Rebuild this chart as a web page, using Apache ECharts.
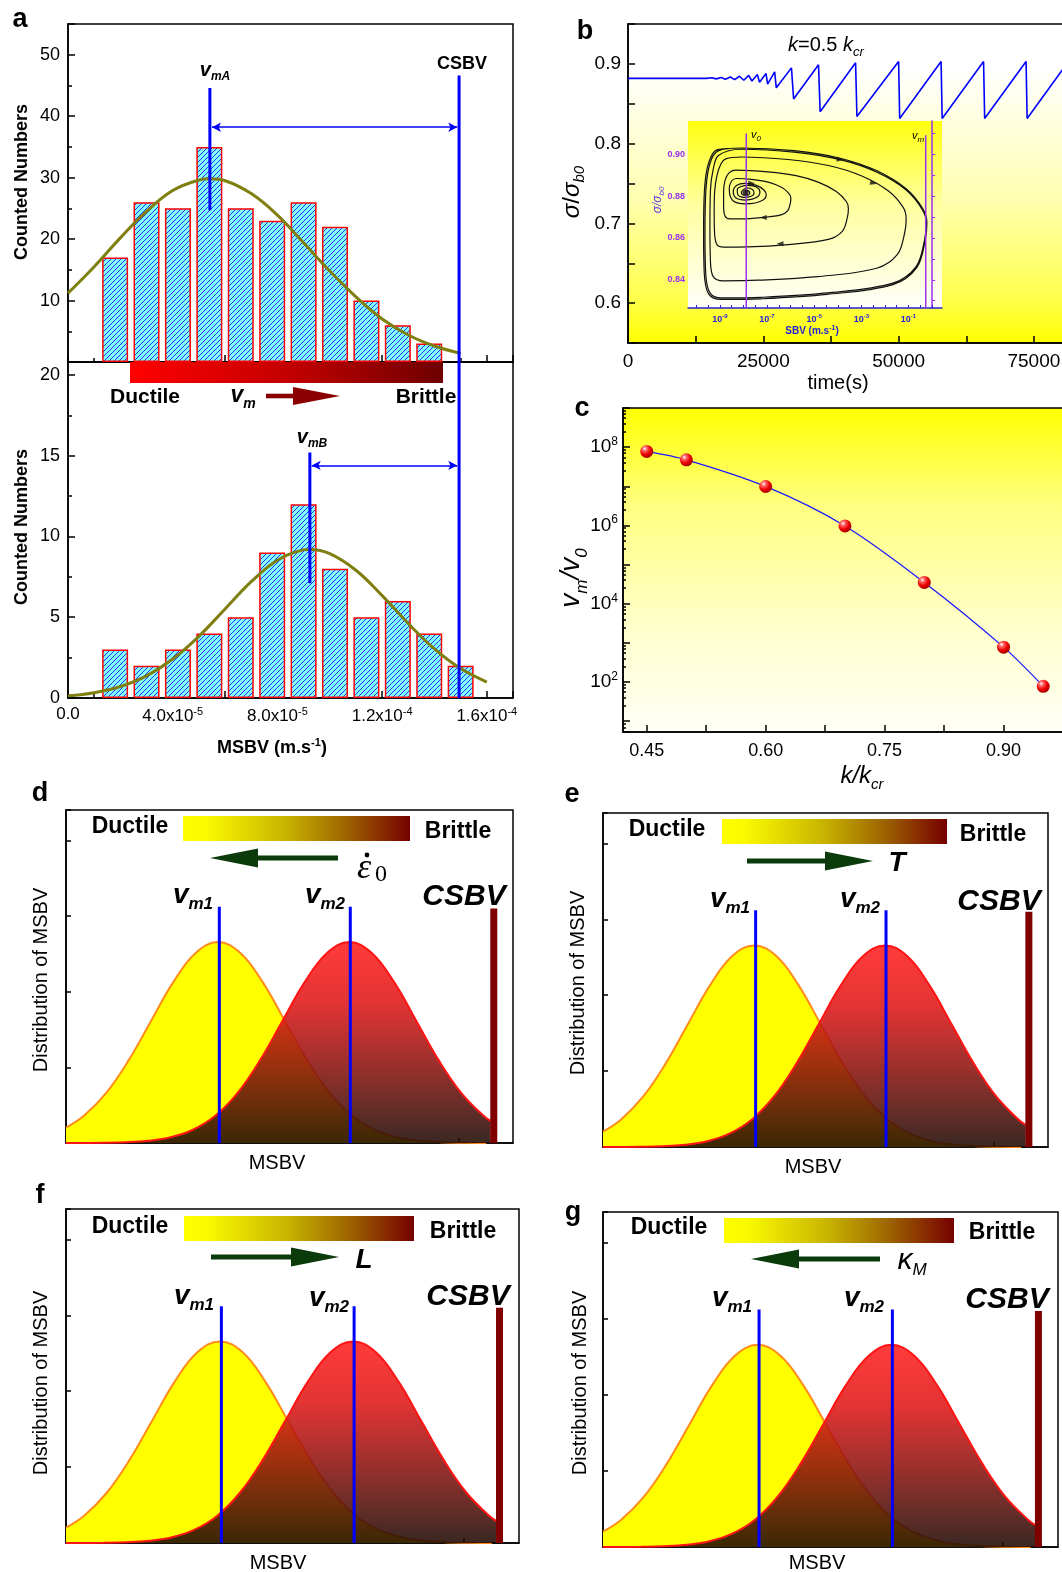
<!DOCTYPE html>
<html>
<head>
<meta charset="utf-8">
<script src="https://cdn.jsdelivr.net/npm/echarts@6/dist/echarts.min.js"></script>
<style>
html,body{margin:0;padding:0;background:#fff;}
#main{width:1062px;height:1572px;}
</style>
</head>
<body>
<div id="main"></div>
<script>
var FONT = 'Liberation Sans, Arial, sans-serif';
var SERIF = 'Liberation Serif, Times New Roman, serif';

// ---------- panel a : histograms of MSBV ----------
var binCentres = [1.8e-5, 3.0e-5, 4.2e-5, 5.4e-5, 6.6e-5, 7.8e-5, 9.0e-5, 1.02e-4, 1.14e-4, 1.26e-4, 1.38e-4, 1.50e-4];
var countsA = [17, 26, 25, 35, 25, 23, 26, 22, 10, 6, 3];
var countsB = [3, 2, 3, 4, 5, 9, 12, 8, 5, 6, 4, 2];
var fitAX = [0, 1e-5, 2e-5, 3e-5, 4e-5, 5e-5, 5.42e-5, 6e-5, 7e-5, 8e-5, 9e-5, 1e-4, 1.1e-4, 1.2e-4, 1.3e-4, 1.4e-4, 1.5e-4];
var fitAY = [11.2, 15.5, 20.2, 24.5, 27.9, 29.6, 29.8, 29.5, 27.4, 23.9, 19.4, 14.8, 10.6, 7.0, 4.4, 2.6, 1.4];
var fitBX = [0, 1e-5, 2e-5, 3e-5, 4e-5, 5e-5, 6e-5, 7e-5, 8e-5, 9e-5, 9.24e-5, 1e-4, 1.1e-4, 1.2e-4, 1.3e-4, 1.4e-4, 1.5e-4, 1.6e-4];
var fitBY = [0.14, 0.33, 0.71, 1.37, 2.41, 3.82, 5.51, 7.20, 8.53, 9.17, 9.2, 8.94, 7.91, 6.34, 4.61, 3.04, 1.82, 0.99];
var vmA = 5.42e-5, vmB = 9.24e-5, csbv = 1.494e-4;
var msbvTickLabels = ['0.0', '4.0x10^-5', '8.0x10^-5', '1.2x10^-4', '1.6x10^-4'];

// ---------- panel b : stress vs time ----------
var timeS = [0, 14500, 15500, 16300, 17200, 18000, 18900, 19700, 20600, 21400, 22300, 22900, 23900, 24300, 25500, 25800,
  27100, 27400, 30200, 30600, 35200, 35500, 42050, 42300, 50000, 50200, 57850, 58050, 65700, 65900, 73550, 73750, 80500];
var stressB = [0.8818, 0.8818, 0.8826, 0.8812, 0.8830, 0.8808, 0.8836, 0.8802, 0.8845, 0.8795, 0.8855, 0.8785, 0.8866, 0.8770, 0.8880, 0.8745,
  0.8900, 0.8700, 0.8950, 0.8560, 0.8990, 0.8400, 0.9015, 0.8340, 0.9030, 0.8315, 0.9030, 0.8315, 0.9030, 0.8315, 0.9030, 0.8315, 0.8946];

// inset: phase portrait, x = log10(SBV)
var phaseX = [-7.91, -7.90, -7.76, -7.73, -7.85, -8.03, -8.09, -8.00, -7.85, -7.62, -7.55, -7.70, -8.00, -8.24, -8.26, -8.10,
  -7.80, -7.45, -7.30, -7.45, -7.90, -8.33, -8.43, -8.28, -7.95, -7.45, -7.12, -7.03, -7.15, -7.50, -7.95, -8.35, -8.55, -8.60, -8.50,
  -8.30, -7.66, -7.08, -6.62, -6.24, -6.03, -5.99, -6.01, -6.12, -6.41, -7.25, -8.08, -8.58, -8.78, -8.84, -8.84, -8.78, -8.62,
  -8.34, -6.97, -5.77, -4.83, -4.06, -3.63, -3.55, -3.59, -3.80, -4.40, -6.11, -7.83, -8.85, -9.12, -9.22, -9.24, -9.22, -9.12, -8.95,
  -8.75, -8.11, -6.11, -4.35, -2.98, -1.85, -1.22, -1.10, -1.16, -1.47, -2.35, -4.86, -7.36, -8.86, -9.28, -9.40, -9.42, -9.40, -9.28, -9.05,
  -8.09, -5.85, -3.90, -2.36, -1.10, -0.40, -0.25, -0.32, -0.68, -1.66, -4.45, -7.25, -8.93, -9.42, -9.60, -9.63, -9.59, -9.42, -9.07,
  -8.09, -5.85, -3.90, -2.36, -1.10, -0.38, -0.22, -0.29, -0.65, -1.66, -4.45, -7.25, -8.95, -9.47, -9.66, -9.69, -9.65, -9.47, -9.10, -8.09];
var phaseY = [0.8817, 0.8829, 0.8823, 0.8812, 0.8805, 0.8806, 0.8818, 0.8831, 0.8839, 0.8832, 0.8815, 0.8798, 0.8794, 0.8807, 0.8832, 0.8846,
  0.8851, 0.8843, 0.8820, 0.8793, 0.8781, 0.8792, 0.8823, 0.8852, 0.8861, 0.8851, 0.8828, 0.8805, 0.8782, 0.8767, 0.8763, 0.8771, 0.8796, 0.8835, 0.8872,
  0.8884, 0.8880, 0.8870, 0.8854, 0.8831, 0.8805, 0.8787, 0.8766, 0.8731, 0.8710, 0.8697, 0.8691, 0.8691, 0.8705, 0.8750, 0.8820, 0.8875, 0.8910,
  0.8924, 0.8916, 0.8898, 0.8867, 0.8822, 0.8773, 0.8740, 0.8699, 0.8633, 0.8593, 0.8568, 0.8557, 0.8556, 0.8568, 0.8617, 0.8716, 0.8822, 0.8900, 0.8955,
  0.8978, 0.8987, 0.8975, 0.8945, 0.8896, 0.8824, 0.8745, 0.8692, 0.8626, 0.8521, 0.8455, 0.8415, 0.8398, 0.8395, 0.8415, 0.8494, 0.8652, 0.8824, 0.8929, 0.8995,
  0.9024, 0.9010, 0.8974, 0.8915, 0.8829, 0.8733, 0.8670, 0.8590, 0.8463, 0.8384, 0.8337, 0.8316, 0.8313, 0.8337, 0.8432, 0.8622, 0.8829, 0.8956, 0.9016,
  0.9030, 0.9017, 0.8981, 0.8922, 0.8835, 0.8737, 0.8672, 0.8589, 0.8458, 0.8377, 0.8330, 0.8309, 0.8306, 0.8331, 0.8430, 0.8622, 0.8832, 0.8961, 0.9022, 0.9030];
var focusPt = [-7.91, 0.8817];
var flowArrowX = [-3.9, -2.48, -6.45, -7.16, -7.65];
var flowArrowY = [0.8975, 0.8862, 0.8572, 0.8698, 0.8861];
var flowArrowRot = [-95, -105, 90, 90, -90];
var v0Log = -7.88, vmLog = -0.27;
var insetXLabels = [-9, -7, -5, -3, -1];
var insetYLabels = [0.84, 0.86, 0.88, 0.90];

// ---------- panel c : vm/v0 vs k/kcr ----------
var kRatio = [0.45, 0.50, 0.60, 0.70, 0.80, 0.90, 0.95];
var vmRatio = [7.8e7, 4.75e7, 9.9e6, 9.7e5, 3.5e4, 780, 78];
var kTickLabels = [0.45, 0.60, 0.75, 0.90];

// ---------- panels d-g : schematic MSBV distributions ----------
var ductileX = [0, 0.4, 0.9, 1.4, 1.9, 2.4, 2.9, 3.4, 3.9, 4.4, 4.9, 5.4, 5.9, 6.4, 6.9, 7.4, 7.9, 8.4, 8.9, 9.4];
var ductileY = [0.203, 0.359, 0.662, 1.092, 1.610, 2.126, 2.512, 2.655, 2.512, 2.126, 1.610, 1.092, 0.662, 0.359, 0.175, 0.076, 0.030, 0.010, 0.003, 0.001];
var brittleX = [0, 0.34, 0.84, 1.34, 1.84, 2.34, 2.84, 3.34, 3.84, 4.34, 4.84, 5.34, 5.84, 6.34, 6.84, 7.34, 7.84, 8.34, 8.84, 9.34, 9.5];
var brittleY = [0.0004, 0.0009, 0.0032, 0.0102, 0.0295, 0.0758, 0.175, 0.359, 0.662, 1.092, 1.610, 2.126, 2.512, 2.655, 2.512, 2.126, 1.610, 1.092, 0.662, 0.359, 0.289];
var vm1X = 3.43, vm2X = 6.36, vmTop = 3.12;
var csbvX = 9.57, csbvTop = 3.10;
var schemTicks = [0.28, 1.49, 2.71, 3.93, 5.14, 6.36, 7.58, 8.79];

function zip(xs, ys) {
  return xs.map(function (x, i) { return [x, ys[i]]; });
}

// hatch fill for histogram bars
var hatch = document.createElement('canvas');
hatch.width = 5; hatch.height = 5;
var hc = hatch.getContext('2d');
hc.fillStyle = '#80ffff'; hc.fillRect(0, 0, 5, 5);
hc.strokeStyle = '#2b2bff'; hc.lineWidth = 1;
hc.beginPath();
hc.moveTo(0, 5); hc.lineTo(5, 0);
hc.moveTo(-1, 1); hc.lineTo(1, -1);
hc.moveTo(4, 6); hc.lineTo(6, 4);
hc.stroke();

var black = { color: '#000', width: 1.5 };

function gridBox(left, top, width, height, bg, border) {
  return {
    left: left, top: top, width: width, height: height, show: true,
    borderColor: '#000', borderWidth: border == null ? 1.5 : border,
    backgroundColor: bg || 'transparent', outerBoundsMode: 'none'
  };
}

function vGrad(stops) {
  return { type: 'linear', x: 0, y: 0, x2: 0, y2: 1, colorStops: stops.map(function (s) { return { offset: s[0], color: s[1] }; }) };
}

var grids = [
  gridBox(68, 24, 445, 338),
  gridBox(68, 362, 445, 336),
  gridBox(628, 24, 436, 319, vGrad([[0, '#ffffff'], [0.14, '#ffffff'], [0.55, '#ffffb0'], [0.85, '#ffff50'], [1, '#ffff00']])),
  gridBox(688, 121, 254, 187, vGrad([[0, '#ffff10'], [0.45, '#ffffa0'], [1, '#fffffa']]), 0),
  gridBox(623, 408, 441, 324, vGrad([[0, '#ffff00'], [0.3, '#ffff80'], [0.7, '#ffffd0'], [1, '#fffff6']])),
  gridBox(66, 810, 447, 333, '#fff'),
  gridBox(603, 813, 445, 334, '#fff'),
  gridBox(66, 1209, 453, 334, '#fff'),
  gridBox(603, 1212, 455, 335, '#fff')
];

var xAxes = [];
var yAxes = [];

// panel a axes
[0, 1].forEach(function (g) {
  xAxes.push({
    gridIndex: g, type: 'value', min: 0, max: 1.7e-4, interval: 2e-5,
    axisLine: { onZero: false, lineStyle: black },
    axisTick: { inside: true, length: 7, lineStyle: black },
    minorTick: { show: true, splitNumber: 2, length: 4, lineStyle: black },
    splitLine: { show: false },
    axisLabel: g === 0 ? { show: false } : {
      margin: 8, color: '#000',
      formatter: function (v) {
        var k = Math.round(v / 4e-5);
        if (Math.abs(v / 4e-5 - k) > 1e-6 || !msbvTickLabels[k]) return '';
        var p = msbvTickLabels[k].split('^');
        return '{n|' + p[0] + '}' + (p[1] ? '{s|' + p[1] + '}' : '');
      },
      rich: {
        n: { fontSize: 17, fontFamily: FONT, color: '#000' },
        s: { fontSize: 11, fontFamily: FONT, color: '#000', padding: [0, 0, 10, 0] }
      }
    }
  });
});
yAxes.push({
  gridIndex: 0, type: 'value', min: 0, max: 55, interval: 10,
  axisLine: { lineStyle: black }, axisTick: { inside: true, length: 7, lineStyle: black },
  minorTick: { show: true, splitNumber: 2, length: 4, lineStyle: black }, splitLine: { show: false },
  axisLabel: { fontSize: 18, color: '#000', margin: 8, formatter: function (v) { return (v > 0 && v % 10 === 0) ? v : ''; } }
});
yAxes.push({
  gridIndex: 1, type: 'value', min: 0, max: 20.8, interval: 5,
  axisLine: { lineStyle: black }, axisTick: { inside: true, length: 7, lineStyle: black },
  minorTick: { show: true, splitNumber: 2, length: 4, lineStyle: black }, splitLine: { show: false },
  axisLabel: { fontSize: 18, color: '#000', margin: 8, formatter: function (v) { return v % 5 === 0 ? v : ''; } }
});

// panel b axes
xAxes.push({
  gridIndex: 2, type: 'value', min: 0, max: 80561, interval: 12500,
  axisLine: { onZero: false, lineStyle: black }, axisTick: { inside: true, length: 7, lineStyle: black },
  splitLine: { show: false },
  axisLabel: { fontSize: 19, color: '#000', margin: 9, formatter: function (v) { return v % 25000 === 0 ? v : ''; } }
});
yAxes.push({
  gridIndex: 2, type: 'value', min: 0.55, max: 0.95, interval: 0.05,
  axisLine: { lineStyle: black }, axisTick: { inside: true, length: 7, lineStyle: black },
  splitLine: { show: false },
  axisLabel: {
    fontSize: 19, color: '#000', margin: 7,
    formatter: function (v) {
      var r = Math.round(v * 10);
      return (Math.abs(v * 10 - r) < 1e-6 && v > 0.56 && v < 0.94) ? v.toFixed(1) : '';
    }
  }
});

// inset axes
var insetBlue = '#2424d8', insetPurple = '#9a30f0';
xAxes.push({
  gridIndex: 3, type: 'value', min: -10.35, max: 0.42,
  axisLine: { onZero: false, lineStyle: { color: insetBlue, width: 1.5 } },
  axisTick: { inside: true, length: 3, lineStyle: { color: insetBlue },
    customValues: [-10, -9.5, -9, -8.5, -8, -7.5, -7, -6.5, -6, -5.5, -5, -4.5, -4, -3.5, -3, -2.5, -2, -1.5, -1, -0.5, 0] },
  splitLine: { show: false },
  axisLabel: {
    customValues: insetXLabels, margin: 5,
    formatter: function (v) { return '{b|10}{s|' + v + '}'; },
    rich: {
      b: { fontSize: 9, fontWeight: 'bold', fontFamily: FONT, color: insetBlue },
      s: { fontSize: 6, fontWeight: 'bold', fontFamily: FONT, color: insetBlue, padding: [0, 0, 7, 0] }
    }
  }
});
yAxes.push({
  gridIndex: 3, type: 'value', min: 0.8265, max: 0.9159,
  axisLine: { lineStyle: { color: insetPurple, width: 1.5 } },
  axisTick: { inside: true, length: 3, lineStyle: { color: insetPurple },
    customValues: [0.83, 0.84, 0.85, 0.86, 0.87, 0.88, 0.89, 0.90, 0.91] },
  splitLine: { show: false },
  axisLabel: {
    customValues: insetYLabels, margin: 3, fontSize: 9, fontWeight: 'bold', color: insetPurple,
    formatter: function (v) { return v.toFixed(2); }
  }
});

// panel c axes
xAxes.push({
  gridIndex: 4, type: 'value', min: 0.4201, max: 0.9762,
  axisLine: { onZero: false, lineStyle: black },
  axisTick: { inside: true, length: 7, lineStyle: black, customValues: [0.45, 0.525, 0.6, 0.675, 0.75, 0.825, 0.9] },
  splitLine: { show: false },
  axisLabel: { customValues: kTickLabels, fontSize: 18, color: '#000', margin: 10, formatter: function (v) { return v.toFixed(2); } }
});
yAxes.push({
  gridIndex: 4, type: 'log', logBase: 10, min: 5.3, max: 1e9,
  axisLine: { lineStyle: black }, axisTick: { inside: true, length: 7, lineStyle: black },
  minorTick: { show: true, splitNumber: 6, length: 3, lineStyle: black },
  splitLine: { show: false },
  axisLabel: {
    margin: 5, showMinLabel: false, showMaxLabel: false,
    formatter: function (v) {
      var l = Math.log10(v), e = Math.round(l);
      if (Math.abs(l - e) > 1e-6 || e % 2 !== 0 || e < 2 || e > 8) return '';
      return '{b|10}{s|' + e + '}';
    },
    rich: {
      b: { fontSize: 19, fontFamily: FONT, color: '#000' },
      s: { fontSize: 12, fontFamily: FONT, color: '#000', padding: [0, 0, 11, 0] }
    }
  }
});

// panels d-g axes
[5, 6, 7, 8].forEach(function (g) {
  xAxes.push({
    gridIndex: g, type: 'value', min: 0, max: 10,
    axisLine: { onZero: false, lineStyle: black },
    axisTick: { inside: true, length: 5, lineStyle: black, customValues: schemTicks },
    axisLabel: { show: false }, splitLine: { show: false }
  });
  yAxes.push({
    gridIndex: g, type: 'value', min: 0, max: 4.4, interval: 1,
    axisLine: { lineStyle: black }, axisTick: { inside: true, length: 5, lineStyle: black },
    axisLabel: { show: false }, splitLine: { show: false }
  });
});

function vline(ax, x, y0, y1, color, width, z) {
  return {
    type: 'line', xAxisIndex: ax, yAxisIndex: ax, data: [[x, y0], [x, y1]],
    showSymbol: false, symbol: 'none', silent: true, z: z || 5,
    lineStyle: { color: color, width: width, cap: 'butt' }
  };
}

function hArrow(y, x0, x1) {
  return {
    silent: true, symbol: ['arrow', 'arrow'], symbolSize: [7, 9],
    lineStyle: { color: '#0000ff', width: 1.5, type: 'solid' }, label: { show: false },
    data: [[{ coord: [x0, y] }, { coord: [x1, y] }]]
  };
}

var barStyle = { color: { image: hatch, repeat: 'repeat' }, borderColor: '#ff0000', borderWidth: 1.5 };
var olive = '#7f7f10';

var series = [
  { type: 'bar', xAxisIndex: 0, yAxisIndex: 0, barWidth: 26, data: zip(binCentres.slice(0, countsA.length), countsA), itemStyle: barStyle, z: 2 },
  { type: 'line', xAxisIndex: 0, yAxisIndex: 0, data: zip(fitAX, fitAY), smooth: 0.4, showSymbol: false, lineStyle: { color: olive, width: 3 }, z: 3 },
  Object.assign(vline(0, vmA, 24.7, 44.6, '#0000ff', 3), { markLine: hArrow(38.2, 5.5e-5, 1.487e-4) }),
  vline(0, csbv, 0, 46.6, '#0000ff', 3),
  { type: 'bar', xAxisIndex: 1, yAxisIndex: 1, barWidth: 26, data: zip(binCentres, countsB), itemStyle: barStyle, z: 2 },
  { type: 'line', xAxisIndex: 1, yAxisIndex: 1, data: zip(fitBX, fitBY), smooth: 0.4, showSymbol: false, lineStyle: { color: olive, width: 3 }, z: 3 },
  Object.assign(vline(1, vmB, 7.1, 15.2, '#0000ff', 3), { markLine: hArrow(14.4, 9.31e-5, 1.487e-4) }),
  vline(1, csbv, 0, 20.8, '#0000ff', 3),
  // panel b
  { type: 'line', xAxisIndex: 2, yAxisIndex: 2, data: zip(timeS, stressB), showSymbol: false, lineStyle: { color: '#0000ff', width: 1.6 }, z: 3 },
  // inset
  { type: 'line', xAxisIndex: 3, yAxisIndex: 3, data: zip(phaseX, phaseY), smooth: 0.35, showSymbol: false, lineStyle: { color: '#111', width: 1.2 }, z: 4 },
  vline(3, v0Log, 0.8265, 0.9099, insetPurple, 1.5, 5),
  vline(3, vmLog, 0.8265, 0.9091, insetPurple, 1.5, 5),
  { type: 'scatter', xAxisIndex: 3, yAxisIndex: 3, data: [focusPt], symbolSize: 6, itemStyle: { color: '#111' }, z: 6 },
  { type: 'scatter', xAxisIndex: 3, yAxisIndex: 3, symbol: 'triangle', symbolSize: [5, 7], itemStyle: { color: '#111' }, z: 6,
    data: flowArrowX.map(function (x, i) { return { value: [x, flowArrowY[i]], symbolRotate: flowArrowRot[i] }; }) },
  // panel c
  { type: 'line', xAxisIndex: 4, yAxisIndex: 4, data: zip(kRatio, vmRatio), smooth: 0.3, symbol: 'circle', symbolSize: 13,
    lineStyle: { color: '#1a1aff', width: 1.3 },
    itemStyle: { color: { type: 'radial', x: 0.35, y: 0.3, r: 0.75, colorStops: [
      { offset: 0, color: '#ffffff' }, { offset: 0.22, color: '#ff6a6a' }, { offset: 0.6, color: '#ee0000' }, { offset: 1, color: '#9a0000' }] } },
    z: 4 }
];

var redFill = vGrad([[0, '#ff2020'], [0.3, '#e01818'], [0.6, '#901410'], [0.85, '#4a100a'], [1, '#200a04']]);
[5, 6, 7, 8].forEach(function (g) {
  series.push({ type: 'line', xAxisIndex: g, yAxisIndex: g, data: zip(ductileX, ductileY), smooth: 0.4, showSymbol: false,
    lineStyle: { color: '#ff8c1a', width: 2 }, areaStyle: { color: '#ffff00', opacity: 1 }, z: 2 });
  series.push({ type: 'line', xAxisIndex: g, yAxisIndex: g, data: zip(brittleX, brittleY), smooth: 0.4, showSymbol: false,
    lineStyle: { color: '#ff1414', width: 2 }, areaStyle: { color: redFill, opacity: 0.88 }, z: 3 });
  series.push(vline(g, vm1X, 0, vmTop, '#0000ff', 3));
  series.push(vline(g, vm2X, 0, vmTop, '#0000ff', 3));
  series.push(vline(g, csbvX, 0, csbvTop, '#800000', 7));
});

// ---------- annotations ----------
function tok(size, o) {
  o = o || {};
  return { fontSize: size, fontFamily: o.family || FONT, fontWeight: o.bold ? 'bold' : 'normal',
    fontStyle: o.italic ? 'italic' : 'normal', fill: o.color || '#000', padding: o.pad || [0, 0, 0, 0] };
}
function txt(x, y, text, size, o) {
  o = o || {};
  return { type: 'text', x: x, y: y, rotation: o.rot || 0, z: 100, silent: true,
    style: { text: text, fontSize: size, fontFamily: o.family || FONT, fontWeight: o.bold ? 'bold' : 'normal',
      fontStyle: o.italic ? 'italic' : 'normal', fill: o.color || '#000', align: o.align || 'center',
      verticalAlign: 'middle', rich: o.rich } };
}
function arrow(tail, tip, y, color, headLen, headHalf, shaftHalf) {
  var dir = tip > tail ? 1 : -1;
  var base = tip - dir * headLen;
  return [
    { type: 'rect', z: 100, silent: true, shape: { x: Math.min(tail, base), y: y - shaftHalf, width: Math.abs(base - tail), height: 2 * shaftHalf }, style: { fill: color } },
    { type: 'polygon', z: 100, silent: true, shape: { points: [[base, y - headHalf], [tip, y], [base, y + headHalf]] }, style: { fill: color } }
  ];
}
function hGradRect(x, y, w, h, stops) {
  return { type: 'rect', z: 90, silent: true, shape: { x: x, y: y, width: w, height: h },
    style: { fill: { type: 'linear', x: 0, y: 0, x2: 1, y2: 0, colorStops: stops.map(function (s) { return { offset: s[0], color: s[1] }; }) } } };
}
function vmLabel(x, y, sub) {
  return txt(x, y, '{v|v}{s|' + sub + '}', 28, { rich: {
    v: tok(28, { bold: true, italic: true }), s: tok(17, { bold: true, italic: true, pad: [19, 0, 0, 0] }) } });
}

var schemStops = [[0, '#ffff00'], [0.1, '#fafa00'], [0.45, '#c8b400'], [0.7, '#a06a00'], [1, '#760000']];
var green = '#0b3a0b';

var els = [];
function add(a) { els = els.concat(a); }

// panel letters
[['a', 20, 20], ['b', 585, 32], ['c', 582, 409], ['d', 40, 794], ['e', 572, 795], ['f', 40, 1196], ['g', 573, 1213]].forEach(function (p) {
  add(txt(p[1], p[2], p[0], 27, { bold: true }));
});

// panel a annotations
add(hGradRect(130, 362, 313, 21, [[0, '#ff0000'], [0.5, '#c40000'], [1, '#6e0000']]));
add(txt(145, 397, 'Ductile', 21, { bold: true }));
add(txt(426, 397, 'Brittle', 21, { bold: true }));
add(txt(243, 396, '{v|v}{s|m}', 22, { rich: { v: tok(23, { bold: true, italic: true }), s: tok(14, { bold: true, italic: true, pad: [16, 0, 0, 0] }) } }));
add(arrow(266, 340, 396, '#8b0000', 47, 9, 2.3));
add(txt(215, 70, '{v|v}{s|mA}', 20, { rich: { v: tok(20, { bold: true, italic: true }), s: tok(12, { bold: true, italic: true, pad: [14, 0, 0, 0] }) } }));
add(txt(462, 64, 'CSBV', 18, { bold: true }));
add(txt(312, 437, '{v|v}{s|mB}', 20, { rich: { v: tok(20, { bold: true, italic: true }), s: tok(12, { bold: true, italic: true, pad: [14, 0, 0, 0] }) } }));
add(txt(22, 182, 'Counted Numbers', 18, { bold: true, rot: Math.PI / 2 }));
add(txt(22, 527, 'Counted Numbers', 18, { bold: true, rot: Math.PI / 2 }));
add(txt(272, 748, '{n|MSBV (m.s}{s|-1}{n|)}', 18, { rich: { n: tok(18, { bold: true }), s: tok(11, { bold: true, pad: [0, 0, 10, 0] }) } }));

// panel b annotations
add(txt(788, 45, '{i|k}{n|=0.5 }{i|k}{s|cr}', 20, { align: 'left', rich: {
  i: tok(20, { italic: true }), n: tok(20), s: tok(13, { italic: true, pad: [15, 0, 0, 0] }) } }));
add(txt(572, 192, '{i|σ}{n|/}{i|σ}{s|b0}', 24, { rot: Math.PI / 2, rich: {
  i: tok(24, { italic: true }), n: tok(24), s: tok(15, { italic: true, pad: [16, 0, 0, 0] }) } }));
add(txt(838, 383, 'time(s)', 20));
add(txt(658, 200, '{i|σ/σ}{s|b0}', 11, { rot: Math.PI / 2, rich: {
  i: tok(12, { italic: true, color: '#6040e0' }), s: tok(8, { italic: true, color: '#6040e0', pad: [8, 0, 0, 0] }) } }));
add(txt(812, 331, '{n|SBV (m.s}{s|-1}{n|)}', 10, { rich: {
  n: tok(10, { bold: true, color: insetBlue }), s: tok(7, { bold: true, color: insetBlue, pad: [0, 0, 6, 0] }) } }));
add(txt(751, 135, '{i|v}{s|0}', 11, { align: 'left', rich: { i: tok(11, { italic: true }), s: tok(8, { italic: true, pad: [8, 0, 0, 0] }) } }));
add(txt(912, 136, '{i|v}{s|m}', 11, { align: 'left', rich: { i: tok(11, { italic: true }), s: tok(8, { italic: true, pad: [8, 0, 0, 0] }) } }));

// panel c annotations
add(txt(571, 578, '{i|v}{s|m}{i|/v}{s|0}', 28, { rot: Math.PI / 2, rich: {
  i: tok(28, { italic: true }), s: tok(17, { italic: true, pad: [22, 0, 0, 0] }) } }));
add(txt(862, 776, '{i|k/k}{s|cr}', 24, { rich: { i: tok(24, { italic: true }), s: tok(15, { italic: true, pad: [18, 0, 0, 0] }) } }));

// panels d-g annotations
var schem = [
  { duct: [130, 827], bar: [183, 816, 227, 25], brit: [458, 832], arr: [338, 210, 858], vm1: [193, 895], vm2: [325, 895], cs: [464, 897], dist: [41, 980], ms: [277, 1163] },
  { duct: [667, 830], bar: [722, 819, 225, 25], brit: [993, 835], arr: [747, 873, 861], vm1: [730, 899], vm2: [860, 899], cs: [999, 902], dist: [578, 983], ms: [813, 1167] },
  { duct: [130, 1227], bar: [184, 1216, 230, 25], brit: [463, 1232], arr: [211, 339, 1257], vm1: [194, 1296], vm2: [329, 1298], cs: [468, 1297], dist: [41, 1383], ms: [278, 1563] },
  { duct: [669, 1228], bar: [724, 1218, 230, 25], brit: [1002, 1233], arr: [880, 751, 1259], vm1: [732, 1298], vm2: [864, 1298], cs: [1007, 1300], dist: [580, 1383], ms: [817, 1563] }
];
schem.forEach(function (s) {
  add(txt(s.duct[0], s.duct[1], 'Ductile', 23, { bold: true }));
  add(hGradRect(s.bar[0], s.bar[1], s.bar[2], s.bar[3], schemStops));
  add(txt(s.brit[0], s.brit[1], 'Brittle', 23, { bold: true }));
  add(arrow(s.arr[0], s.arr[1], s.arr[2], green, 48, 9.5, 2.4));
  add(vmLabel(s.vm1[0], s.vm1[1], 'm1'));
  add(vmLabel(s.vm2[0], s.vm2[1], 'm2'));
  add(txt(s.cs[0], s.cs[1], 'CSBV', 30, { bold: true, italic: true }));
  add(txt(s.dist[0], s.dist[1], 'Distribution of MSBV', 20, { rot: Math.PI / 2 }));
  add(txt(s.ms[0], s.ms[1], 'MSBV', 20));
});
// driving-parameter symbols
add(txt(364, 869, 'ε', 36, { family: SERIF, italic: true }));
add({ type: 'circle', z: 100, silent: true, shape: { cx: 367, cy: 855, r: 2.4 }, style: { fill: '#000' } });
add(txt(381, 875, '0', 24, { family: SERIF }));
add(txt(897, 863, 'T', 28, { bold: true, italic: true }));
add(txt(364, 1260, 'L', 28, { bold: true, italic: true }));
add(txt(912, 1261, '{i|κ}{s|M}', 28, { rich: { i: tok(30, { italic: true }), s: tok(17, { italic: true, pad: [18, 0, 0, 0] }) } }));

var chartDom = document.getElementById('main');
var myChart = echarts.init(chartDom, null, { renderer: 'canvas', width: 1062, height: 1572 });
var option = {
  animation: false,
  backgroundColor: '#fff',
  textStyle: { fontFamily: FONT },
  grid: grids,
  xAxis: xAxes,
  yAxis: yAxes,
  series: series,
  graphic: { elements: els }
};
option && myChart.setOption(option);
</script>
</body>
</html>
